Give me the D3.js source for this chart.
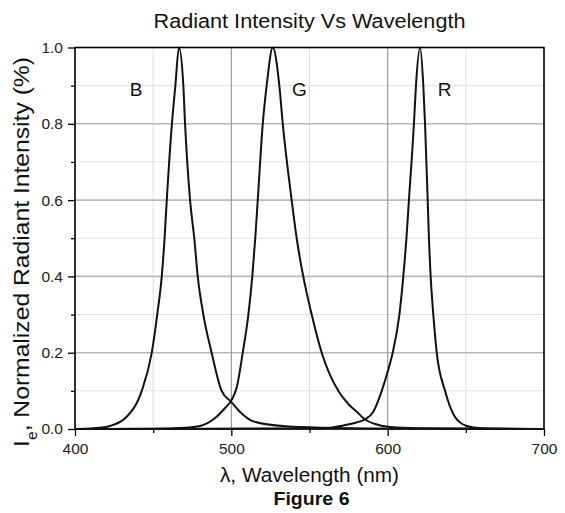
<!DOCTYPE html>
<html>
<head>
<meta charset="utf-8">
<script src="https://cdn.jsdelivr.net/npm/d3@7"></script>
<style>
body { margin: 0; background: #fff; }
svg { display: block; font-family: "Liberation Sans", Arial, sans-serif; }
</style>
</head>
<body>
<div id="viz"></div>
<script>
// spectra: wavelength (nm) and normalized intensity
blue_nm  = [400, 412, 422.4, 433.1, 442.7, 449.1, 452.6, 455.5, 457.3, 458.7, 462, 464.2, 466.5, 469.3, 470.4, 473.6, 476.3, 478.5, 482.1, 487.4, 493.8, 500.2, 505.5, 514, 535, 560, 600, 700];
blue_val = [0, 0.002, 0.008, 0.032, 0.1, 0.2, 0.3, 0.4, 0.5, 0.6, 0.8, 0.9, 1.0, 0.9, 0.8, 0.6, 0.5, 0.4, 0.3, 0.2, 0.1, 0.07, 0.045, 0.02, 0.007, 0.003, 0.001, 0];

green_nm  = [400, 450, 470, 480, 490, 496, 500, 503.5, 507.3, 510.9, 513.4, 515.3, 516.9, 520.1, 522.6, 526.5, 530.7, 532.9, 538.6, 541.8, 546, 551.4, 557.8, 568.4, 575, 580.2, 585.5, 592, 602, 620, 650, 700];
green_val = [0, 0.0005, 0.003, 0.008, 0.03, 0.055, 0.075, 0.11, 0.2, 0.3, 0.4, 0.5, 0.6, 0.8, 0.9, 1.0, 0.9, 0.8, 0.6, 0.5, 0.4, 0.3, 0.2, 0.1, 0.065, 0.045, 0.025, 0.013, 0.005, 0.002, 0.001, 0];

red_nm  = [400, 560, 570, 580, 585.5, 590.8, 596.2, 600, 603.2, 607.5, 610, 612, 613.6, 616.8, 618.1, 620.7, 622.8, 623.9, 625.6, 626.4, 627.5, 629.2, 631.4, 636.7, 643, 650.5, 660, 700];
red_val = [0, 0.002, 0.008, 0.017, 0.025, 0.045, 0.1, 0.15, 0.2, 0.3, 0.4, 0.5, 0.6, 0.8, 0.9, 1.0, 0.9, 0.8, 0.6, 0.5, 0.4, 0.3, 0.2, 0.1, 0.032, 0.008, 0.002, 0];

peak_names = ["B", "G", "R"];
peak_label_nm = [439, 543.5, 636.5];
peak_label_val = [0.89, 0.89, 0.89];

x_ticks = [400, 500, 600, 700];
x_minor = [450, 550, 650];
y_ticks = [0, 0.2, 0.4, 0.6, 0.8, 1.0];
y_minor = [0.1, 0.3, 0.5, 0.7, 0.9];

W = 565;
H = 513;
left = 75;
top_ = 47.5;
width = 469;
height = 381.5;
cx = left + width / 2;

svg = d3.select("#viz").append("svg")
	.attr("width", W)
	.attr("height", H);

var x = d3.scaleLinear()
	.domain([400, 700])
	.range([0, width]);

var y = d3.scaleLinear()
	.domain([0, 1])
	.range([height, 0]);

g = svg.append("g")
	.attr("transform", "translate(" + left + "," + top_ + ")");

// grid, minor first so majors sit on top
g.append("g").selectAll("line").data(y_minor).enter().append("line")
	.attr("x1", 0).attr("x2", width)
	.attr("y1", function(d) { return y(d); })
	.attr("y2", function(d) { return y(d); })
	.attr("stroke", "#dedede")
	.attr("stroke-width", 1);

g.append("g").selectAll("line").data(x_minor).enter().append("line")
	.attr("y1", 0).attr("y2", height)
	.attr("x1", function(d) { return x(d); })
	.attr("x2", function(d) { return x(d); })
	.attr("stroke", "#dedede")
	.attr("stroke-width", 1);

g.append("g").selectAll("line").data(y_ticks).enter().append("line")
	.attr("x1", 0).attr("x2", width)
	.attr("y1", function(d) { return y(d); })
	.attr("y2", function(d) { return y(d); })
	.attr("stroke", "#b8b8b8")
	.attr("stroke-width", 1.6);

g.append("g").selectAll("line").data(x_ticks).enter().append("line")
	.attr("y1", 0).attr("y2", height)
	.attr("x1", function(d) { return x(d); })
	.attr("x2", function(d) { return x(d); })
	.attr("stroke", "#9a9a9a")
	.attr("stroke-width", 1.2);

// axes
g.append("g")
	.attr("transform", "translate(0," + height + ")")
	.style("font-size", "15.5px")
	.call(d3.axisBottom(x).tickValues(x_ticks).tickSize(7).tickPadding(7).tickFormat(d3.format("d")))
	.call(function(a) { a.select(".domain").remove(); });

g.append("g")
	.attr("transform", "translate(0," + height + ")")
	.call(d3.axisBottom(x).tickValues(x_minor).tickSize(4).tickFormat(""))
	.call(function(a) { a.select(".domain").remove(); });

g.append("g")
	.style("font-size", "15.5px")
	.call(d3.axisLeft(y).tickValues(y_ticks).tickSize(7).tickPadding(5).tickFormat(d3.format(".1f")))
	.call(function(a) { a.select(".domain").remove(); });

g.append("g")
	.call(d3.axisLeft(y).tickValues(y_minor).tickSize(4).tickFormat(""))
	.call(function(a) { a.select(".domain").remove(); });

g.selectAll(".tick line").attr("stroke", "#000").attr("stroke-width", 1.3);
g.selectAll(".tick text").attr("fill", "#222").style("font-family", "'Liberation Sans', Arial, sans-serif");

// frame
g.append("rect")
	.attr("width", width)
	.attr("height", height)
	.attr("fill", "none")
	.attr("stroke", "#000")
	.attr("stroke-width", 1.5);

// curves
var line = d3.line()
	.x(function(d) { return x(d[0]); })
	.y(function(d) { return y(d[1]); })
	.curve(d3.curveMonotoneX);

series = [d3.zip(blue_nm, blue_val), d3.zip(green_nm, green_val), d3.zip(red_nm, red_val)];

g.append("g").selectAll("path").data(series).enter().append("path")
	.attr("d", line)
	.attr("fill", "none")
	.attr("stroke", "#111")
	.attr("stroke-width", 2)
	.attr("stroke-linejoin", "round");

g.append("g").selectAll("text").data(peak_names).enter().append("text")
	.attr("x", function(d, i) { return x(peak_label_nm[i]); })
	.attr("y", function(d, i) { return y(peak_label_val[i]); })
	.attr("dy", "0.36em")
	.attr("text-anchor", "middle")
	.style("font-size", "19px")
	.attr("fill", "#111")
	.text(function(d) { return d; });

// titles
svg.append("text")
	.attr("x", cx)
	.attr("y", 28)
	.attr("text-anchor", "middle")
	.attr("textLength", 312)
	.attr("lengthAdjust", "spacingAndGlyphs")
	.style("font-size", "20px")
	.attr("fill", "#111")
	.text("Radiant Intensity Vs Wavelength");

svg.append("text")
	.attr("x", cx)
	.attr("y", 482)
	.attr("text-anchor", "middle")
	.attr("textLength", 179)
	.attr("lengthAdjust", "spacingAndGlyphs")
	.style("font-size", "20px")
	.attr("fill", "#111")
	.text("\u03bb, Wavelength (nm)");

svg.append("text")
	.attr("x", cx + 2)
	.attr("y", 505)
	.attr("text-anchor", "middle")
	.attr("textLength", 76)
	.attr("lengthAdjust", "spacingAndGlyphs")
	.style("font-size", "19px")
	.style("font-weight", "bold")
	.attr("fill", "#111")
	.text("Figure 6");

ylab = svg.append("text")
	.attr("transform", "translate(29,252) rotate(-90)")
	.attr("text-anchor", "middle")
	.attr("textLength", 390)
	.attr("lengthAdjust", "spacingAndGlyphs")
	.style("font-size", "22px")
	.attr("fill", "#111");
ylab.append("tspan").text("I");
ylab.append("tspan").attr("baseline-shift", "sub").style("font-size", "14px").text("e");
ylab.append("tspan").text(", Normalized Radiant Intensity (%)");
</script>
</body>
</html>
